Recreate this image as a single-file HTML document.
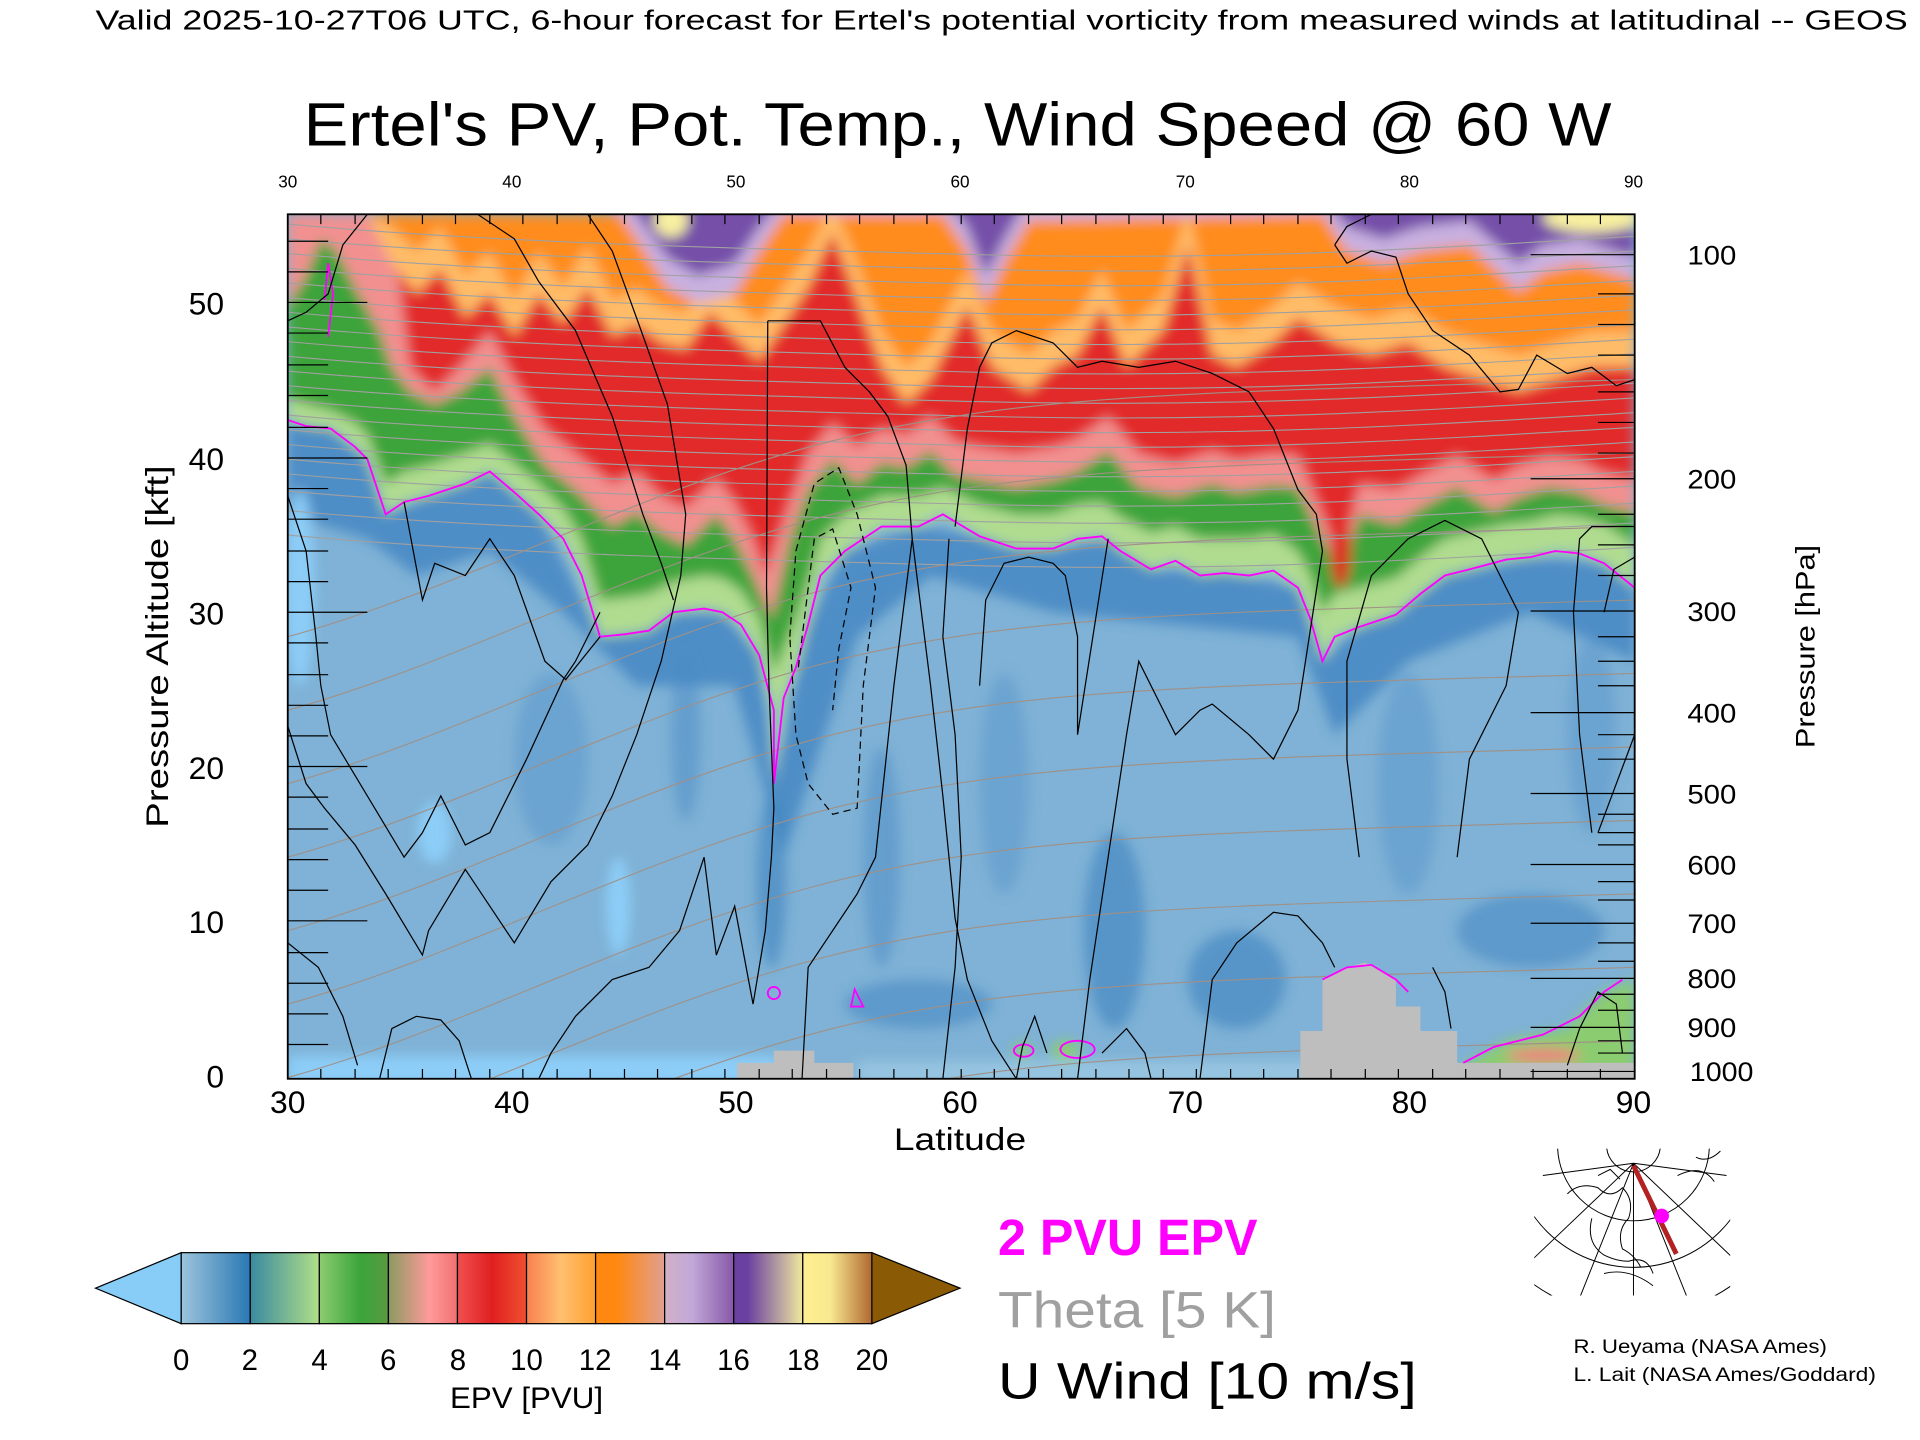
<!DOCTYPE html>
<html><head><meta charset="utf-8"><style>
html,body{margin:0;padding:0;background:#fff;}
svg{display:block;}
text{font-family:"Liberation Sans",sans-serif;}
</style></head><body>
<svg width="1920" height="1440" viewBox="0 0 1568 1176" xmlns="http://www.w3.org/2000/svg">
<defs>
<filter id="bl" x="-5%" y="-5%" width="110%" height="110%"><feGaussianBlur stdDeviation="5"/></filter>
<clipPath id="pc"><rect x="235" y="175" width="1100" height="706"/></clipPath>
<clipPath id="mc"><rect x="1253" y="938" width="160" height="120"/></clipPath>
<linearGradient id="g0"><stop offset="0" stop-color="#9cc4dc"/><stop offset="1" stop-color="#2a78b4"/></linearGradient>
<linearGradient id="g1"><stop offset="0" stop-color="#3a8aa0"/><stop offset="1" stop-color="#b0e088"/></linearGradient>
<linearGradient id="g2"><stop offset="0" stop-color="#8ccc70"/><stop offset=".6" stop-color="#3aa43a"/><stop offset="1" stop-color="#5a9a40"/></linearGradient>
<linearGradient id="g3"><stop offset="0" stop-color="#8a9a60"/><stop offset=".6" stop-color="#ff9a9a"/><stop offset="1" stop-color="#f07070"/></linearGradient>
<linearGradient id="g4"><stop offset="0" stop-color="#f05050"/><stop offset=".5" stop-color="#e02020"/><stop offset="1" stop-color="#f05030"/></linearGradient>
<linearGradient id="g5"><stop offset="0" stop-color="#f88050"/><stop offset=".5" stop-color="#ffc070"/><stop offset="1" stop-color="#ffa030"/></linearGradient>
<linearGradient id="g6"><stop offset="0" stop-color="#ff8810"/><stop offset=".3" stop-color="#ff8810"/><stop offset="1" stop-color="#e0a090"/></linearGradient>
<linearGradient id="g7"><stop offset="0" stop-color="#d4b0c8"/><stop offset=".4" stop-color="#c0a8d8"/><stop offset="1" stop-color="#8858a8"/></linearGradient>
<linearGradient id="g8"><stop offset="0" stop-color="#6a40a0"/><stop offset=".2" stop-color="#6a40a0"/><stop offset="1" stop-color="#f0e8a0"/></linearGradient>
<linearGradient id="g9"><stop offset="0" stop-color="#fff090"/><stop offset=".4" stop-color="#f8e890"/><stop offset="1" stop-color="#b06830"/></linearGradient>
<path id="th" d="M235,175 C400,190 600,195 800,200 S1150,196 1335,185" fill="none" stroke="#a0a0a0" stroke-width="0.9"/>
<path id="tl" d="M235,640 C380,600 520,520 680,480 S1000,440 1335,430" fill="none" stroke="#a09086" stroke-width="0.9"/>
</defs>

<text x="78" y="24" font-size="23" textLength="1480" lengthAdjust="spacingAndGlyphs">Valid 2025-10-27T06 UTC, 6-hour forecast for Ertel's potential vorticity from measured winds at latitudinal -- GEOS</text>
<text x="248" y="119" font-size="50" textLength="1068" lengthAdjust="spacingAndGlyphs">Ertel's PV, Pot. Temp., Wind Speed @ 60 W</text>

<g clip-path="url(#pc)">
<rect x="235" y="175" width="1100" height="706" fill="#7fb2d6"/>
<g filter="url(#bl)">
<polygon fill="#3c82c0" opacity=".75" points="235,343 270,350 300,375 315,420 350,405 400,385 440,420 490,520 550,500 590,500 620,535 632,640 660,510 690,450 750,430 800,438 860,448 905,440 940,465 1000,468 1060,480 1080,540 1110,512 1180,470 1250,455 1310,460 1335,480 1335,540 1250,500 1150,540 1090,600 1060,520 960,510 860,500 760,470 700,520 640,700 600,560 520,560 460,500 400,450 340,470 300,440 235,420"/>
<ellipse cx="630" cy="720" rx="12" ry="70" fill="#3c82c0" opacity=".6"/>
<ellipse cx="720" cy="700" rx="15" ry="90" fill="#4a8cc6" opacity=".5"/>
<ellipse cx="910" cy="760" rx="25" ry="80" fill="#3c82c0" opacity=".6"/>
<ellipse cx="1010" cy="800" rx="40" ry="40" fill="#3c82c0" opacity=".6"/>
<ellipse cx="1250" cy="760" rx="60" ry="30" fill="#3c82c0" opacity=".5"/>
<ellipse cx="560" cy="600" rx="12" ry="70" fill="#4a8cc6" opacity=".5"/>
<ellipse cx="450" cy="620" rx="30" ry="70" fill="#5a96cc" opacity=".5"/>
<ellipse cx="820" cy="640" rx="20" ry="90" fill="#5a96cc" opacity=".5"/>
<ellipse cx="1150" cy="640" rx="25" ry="90" fill="#5a96cc" opacity=".5"/>
<ellipse cx="1300" cy="600" rx="20" ry="80" fill="#5a96cc" opacity=".5"/>
<ellipse cx="750" cy="820" rx="60" ry="20" fill="#3c82c0" opacity=".5"/>
<ellipse cx="245" cy="480" rx="12" ry="80" fill="#8ccdf7"/>
<ellipse cx="355" cy="680" rx="14" ry="25" fill="#8ccdf7"/>
<ellipse cx="505" cy="740" rx="10" ry="40" fill="#8ccdf7"/>
<rect x="235" y="862" width="400" height="25" fill="#8ccdf7"/>
<rect x="700" y="866" width="400" height="20" fill="#96c4e0"/>
<polygon fill="#b0dc90" points="235,175 235,343 250,348 270,350 290,365 300,375 315,420 330,410 350,405 380,395 400,385 420,402 440,420 460,440 475,470 490,520 510,518 530,515 550,500 575,497 590,500 605,510 620,535 632,580 632,640 640,570 650,545 660,510 670,470 690,450 720,430 750,430 770,420 800,438 830,448 860,448 880,440 900,438 915,450 940,465 960,458 980,470 1000,468 1020,470 1040,466 1060,480 1070,505 1080,540 1090,520 1110,512 1140,502 1160,485 1180,470 1200,465 1230,457 1250,455 1270,450 1290,452 1310,460 1335,480 1335,175"/>
<polygon fill="#3ea43a" points="235,175 235,325 250,330 270,335 290,345 300,355 315,395 330,385 350,380 380,370 400,362 420,378 440,395 460,415 475,440 490,490 510,488 530,485 550,475 575,470 590,472 605,482 620,505 632,550 640,530 650,505 660,475 670,440 690,420 720,405 750,405 770,398 800,412 830,420 860,420 880,412 900,410 915,422 940,435 960,430 980,440 1000,440 1020,440 1040,436 1060,450 1070,470 1080,500 1090,485 1110,480 1140,472 1160,455 1180,440 1200,435 1230,428 1250,426 1270,420 1290,422 1310,428 1335,445 1335,175"/>
<polygon fill="#f29090" points="235,175 235,250 250,225 262,195 275,205 290,235 310,270 320,300 335,320 355,330 375,320 400,300 420,340 445,380 470,400 500,430 520,418 540,435 560,445 585,420 600,440 615,470 630,505 645,440 660,400 680,375 700,395 720,378 740,382 760,368 780,388 800,392 830,398 860,392 880,385 905,368 930,398 960,405 990,395 1010,402 1040,396 1060,398 1080,440 1095,470 1110,420 1140,428 1160,415 1190,398 1220,418 1240,406 1265,398 1290,402 1310,412 1335,418 1335,175"/>
<polygon fill="#e22a2a" points="235,175 300,175 320,185 335,300 355,320 375,300 400,270 420,310 445,350 470,370 500,395 520,385 540,405 560,415 585,390 600,410 615,440 625,470 645,410 660,370 680,345 700,365 720,350 740,355 760,340 780,360 800,365 830,370 860,365 880,358 905,340 930,370 960,378 990,368 1010,375 1040,370 1060,372 1080,420 1095,460 1110,395 1140,400 1160,388 1190,372 1220,392 1240,380 1265,372 1290,376 1310,386 1335,392 1335,175"/>
<polygon fill="#ffbc68" points="235,175 300,175 320,215 340,240 360,220 380,260 400,240 420,275 440,240 460,265 480,235 500,275 520,265 540,280 560,285 580,255 600,275 620,295 640,265 660,235 680,190 700,245 720,300 740,330 760,310 790,250 810,300 840,320 860,300 880,290 900,250 920,300 950,270 970,200 990,290 1010,300 1040,280 1060,260 1090,280 1120,290 1150,280 1180,300 1210,310 1240,320 1270,310 1300,300 1335,300 1335,175"/>
<polygon fill="#ff8c1a" points="235,175 300,175 320,185 340,205 360,185 380,225 400,205 420,245 440,205 460,235 480,200 500,245 520,235 540,250 560,255 580,225 600,245 620,265 640,235 660,205 680,165 700,215 720,270 740,300 760,280 790,220 810,270 840,290 860,270 880,260 900,220 920,270 950,240 970,170 990,260 1010,270 1040,250 1060,230 1090,250 1120,260 1150,250 1180,270 1210,280 1240,290 1270,280 1300,270 1335,270 1335,175"/>
<polygon fill="#c8b0e0" points="235,165 500,165 520,195 545,235 570,248 600,240 620,205 640,175 770,175 790,205 805,248 820,215 840,180 1080,175 1100,205 1130,215 1160,205 1200,200 1240,238 1260,222 1290,215 1335,228 1335,165"/>
<polygon fill="#7450a8" points="235,150 500,150 520,175 545,210 570,225 600,215 620,185 640,160 770,160 790,185 805,225 820,195 840,160 1080,160 1100,185 1130,195 1160,185 1200,180 1240,215 1260,200 1290,195 1335,210 1335,150"/>
<ellipse cx="548" cy="180" rx="14" ry="14" fill="#f8f0a0"/>
<ellipse cx="1300" cy="178" rx="40" ry="12" fill="#f8f0a0"/>
<ellipse cx="1095" cy="450" rx="8" ry="30" fill="#e02a20"/>
<polygon fill="#8ccc70" points="1195,870 1230,850 1280,840 1310,810 1335,800 1335,881 1195,881"/>
<ellipse cx="1260" cy="862" rx="30" ry="6" fill="#f08080"/>
<ellipse cx="870" cy="858" rx="12" ry="8" fill="#8ccc70"/>
<ellipse cx="835" cy="858" rx="8" ry="6" fill="#8ccc70"/>
</g>
<g>
<use href="#th" y="8"/><use href="#th" y="20"/><use href="#th" y="32"/><use href="#th" y="44"/><use href="#th" y="56"/><use href="#th" y="68"/><use href="#th" y="80"/><use href="#th" y="92"/><use href="#th" y="104"/><use href="#th" y="116"/><use href="#th" y="128"/><use href="#th" y="140"/><use href="#th" y="152"/><use href="#th" y="164"/><use href="#th" y="176"/><use href="#th" y="188"/><use href="#th" y="200"/><use href="#th" y="212"/><use href="#th" y="226"/><use href="#th" y="242"/><use href="#th" y="262"/>
<use href="#tl" y="-120"/><use href="#tl" y="-60"/><use href="#tl" y="0"/><use href="#tl" y="60"/><use href="#tl" y="120"/><use href="#tl" y="180"/><use href="#tl" y="240"/><use href="#tl" y="300"/><use href="#tl" y="360"/><use href="#tl" y="420"/>
</g>
<polygon fill="#bebebe" points="1062,881 1062,842 1080,842 1080,800 1100,790 1115,786 1140,800 1140,822 1160,822 1160,842 1190,842 1190,881"/>
<polygon fill="#bebebe" points="602,881 602,868 632,868 632,858 665,858 665,868 697,868 697,881"/>
<rect x="1190" y="868" width="145" height="13" fill="#bebebe"/>
<polyline fill="none" stroke="#ff00ff" stroke-width="1.5" points="235,343 250,348 270,350 290,365 300,375 315,420 330,410 350,405 380,395 400,385 420,402 440,420 460,440 475,470 490,520 510,518 530,515 550,500 575,497 590,500 605,510 620,535 632,580 632,640 640,570 650,545 660,510 670,470 690,450 720,430 750,430 770,420 800,438 830,448 860,448 880,440 900,438 915,450 940,465 960,458 980,470 1000,468 1020,470 1040,466 1060,480 1070,505 1080,540 1090,520 1110,512 1140,502 1160,485 1180,470 1200,465 1230,457 1250,455 1270,450 1290,452 1310,460 1335,480"/>
<polyline fill="none" stroke="#ff00ff" stroke-width="1.5" points="265,245 268,215 272,240 268,275"/>
<polyline fill="none" stroke="#ff00ff" stroke-width="1.5" points="1080,800 1100,790 1120,788 1140,800 1150,810"/>
<polyline fill="none" stroke="#ff00ff" stroke-width="1.5" points="1195,868 1220,855 1260,845 1290,830 1310,810 1325,800"/>
<circle cx="632" cy="811" r="5" fill="none" stroke="#ff00ff" stroke-width="1.5"/>
<polygon fill="none" stroke="#ff00ff" stroke-width="1.5" points="698,808 705,822 695,822"/>
<ellipse cx="880" cy="857" rx="14" ry="7" fill="none" stroke="#ff00ff" stroke-width="1.5"/>
<ellipse cx="836" cy="858" rx="8" ry="5" fill="none" stroke="#ff00ff" stroke-width="1.5"/>
<g fill="none" stroke="#000" stroke-width="1">
<path d="M235,593 L250,640 L265,660 L290,690 L315,730 L345,780 L350,760 L380,710 L420,770 L450,720 L480,690 L500,650 L520,600 L540,540 L556,470 L560,420 L545,330 L520,260 L500,205 L480,175"/>
<path d="M235,405 L250,450 L258,520 L262,560 L270,600 L300,650 L330,700 L345,680 L360,650 L380,690 L400,680 L430,620 L460,555 L470,540 L490,500"/>
<path d="M300,175 L280,200 L268,240 L250,255 L235,262"/>
<path d="M390,175 L420,195 L440,230 L470,270 L500,340 L525,420 L540,460 L550,490"/>
<path d="M330,410 L345,490 L355,460 L380,470 L400,440 L420,470 L445,540 L462,555 L490,520"/>
<path d="M235,770 L260,790 L280,830 L292,870"/>
<path d="M310,881 L320,840 L340,830 L360,833 L375,850 L385,881"/>
<path d="M440,881 L450,860 L470,830 L500,800 L530,790 L555,760 L575,700 L585,780 L600,740 L615,820 L625,760 L630,700 L632,660 L628,560 L626,480 L627,262"/>
<path d="M627,262 L650,262 L670,262 L690,300 L710,320 L725,340 L740,380 L745,440 L760,560 L770,650 L780,750 L790,800 L810,850 L830,881"/>
<path d="M655,881 L660,790 L680,760 L700,730 L715,700 L730,560 L745,440"/>
<path d="M780,430 L790,350 L800,300 L810,280 L830,270 L860,280 L880,300 L900,295 L930,300 L960,295 L990,305 L1020,320 L1040,350 L1060,400 L1075,420 L1080,450"/>
<path d="M770,881 L780,790 L785,700 L780,600 L770,520 L775,440"/>
<path d="M800,560 L805,490 L820,460 L840,455 L860,460 L870,470 L880,520 L880,600 L905,440"/>
<path d="M880,881 L890,800 L905,700 L920,600 L930,540 L960,600 L980,580 L990,575 L1020,600 L1040,620 L1060,580 L1080,450"/>
<path d="M980,881 L990,800 L1010,770 L1040,745 L1060,748 L1080,770 L1090,790"/>
<path d="M1110,700 L1100,620 L1100,540 L1120,470 L1150,440 L1180,425 L1210,440 L1230,480 L1240,500 L1230,560 L1200,620 L1190,700"/>
<path d="M1090,200 L1100,185 L1120,175 M1090,200 L1100,215 L1120,205 L1140,210 L1150,240 L1170,270 L1200,290 L1225,320 L1240,318 L1255,290 L1280,305 L1300,300 L1320,315 L1335,310"/>
<path d="M1300,680 L1290,600 L1285,500 L1290,440 L1300,430 L1335,430"/>
<path d="M1305,680 L1320,640 L1335,600"/>
<path d="M1280,870 L1290,840 L1305,810 L1320,820 L1325,860"/>
<path d="M830,881 L835,855 L845,830 L855,860"/>
<path d="M900,860 L920,840 L935,860 L940,881"/>
<path d="M1170,790 L1180,810 L1185,840"/>
<path d="M1335,455 L1318,465 L1310,500"/>
</g>
<g fill="none" stroke="#000" stroke-width="1" stroke-dasharray="6,4">
<path d="M645,520 L650,450 L665,395 L685,382 L700,420 L715,480 L705,560 L700,660 L680,665 L660,640 L650,600 Z"/>
<path d="M652,545 L665,440 L680,432 L695,480 L685,530 L680,580"/>
</g>
<g stroke="#000" stroke-width="1">
<path d="M235,247H300M235,374H300M235,500H300M235,626H300M235,752H300"/>
<path d="M235,197H268M235,222H268M235,272H268M235,298H268M235,323H268M235,349H268M235,399H268M235,424H268M235,450H268M235,475H268M235,525H268M235,551H268M235,576H268M235,601H268M235,651H268M235,677H268M235,702H268M235,727H268M235,778H268M235,803H268M235,828H268M235,853H268"/>
<path d="M1250,208H1335M1250,391H1335M1250,499H1335M1250,582H1335M1250,648H1335M1250,706H1335M1250,754H1335M1250,799H1335M1250,839H1335M1250,875H1335"/>
<path d="M1305,240H1335M1305,265H1335M1305,290H1335M1305,320H1335M1305,345H1335M1305,370H1335M1305,420H1335M1305,445H1335M1305,470H1335M1305,520H1335M1305,540H1335M1305,560H1335M1305,600H1335M1305,620H1335M1305,665H1335M1305,680H1335M1305,690H1335M1305,720H1335M1305,735H1335M1305,770H1335M1305,785H1335M1305,812H1335M1305,825H1335M1305,850H1335M1305,860H1335"/>
</g>
</g>
<rect x="235" y="175" width="1100" height="706" fill="none" stroke="#000" stroke-width="1.5"/>
<g stroke="#000" stroke-width="1">
<path d="M262,175v8M290,175v8M317,175v8M345,175v8M372,175v8M400,175v8M427,175v8M455,175v8M482,175v8M510,175v8M537,175v8M565,175v8M592,175v8M620,175v8M647,175v8M675,175v8M702,175v8M730,175v8M757,175v8M785,175v8M812,175v8M840,175v8M867,175v8M895,175v8M922,175v8M950,175v8M977,175v8M1005,175v8M1032,175v8M1060,175v8M1087,175v8M1115,175v8M1142,175v8M1170,175v8M1197,175v8M1225,175v8M1252,175v8M1280,175v8M1307,175v8"/>
<path d="M262,881v-8M290,881v-8M317,881v-8M345,881v-8M372,881v-8M400,881v-8M427,881v-8M455,881v-8M482,881v-8M510,881v-8M537,881v-8M565,881v-8M592,881v-8M620,881v-8M647,881v-8M675,881v-8M702,881v-8M730,881v-8M757,881v-8M785,881v-8M812,881v-8M840,881v-8M867,881v-8M895,881v-8M922,881v-8M950,881v-8M977,881v-8M1005,881v-8M1032,881v-8M1060,881v-8M1087,881v-8M1115,881v-8M1142,881v-8M1170,881v-8M1197,881v-8M1225,881v-8M1252,881v-8M1280,881v-8M1307,881v-8"/>
</g>
<g font-size="14" text-anchor="middle">
<text x="235" y="153">30</text><text x="418" y="153">40</text><text x="601" y="153">50</text><text x="784" y="153">60</text><text x="968" y="153">70</text><text x="1151" y="153">80</text><text x="1334" y="153">90</text>
</g>
<g font-size="26" text-anchor="middle">
<text x="235" y="909">30</text><text x="418" y="909">40</text><text x="601" y="909">50</text><text x="784" y="909">60</text><text x="968" y="909">70</text><text x="1151" y="909">80</text><text x="1334" y="909">90</text>
<text x="784" y="939" textLength="108" lengthAdjust="spacingAndGlyphs">Latitude</text>
</g>
<g font-size="26" text-anchor="end">
<text x="183" y="888">0</text><text x="183" y="762">10</text><text x="183" y="636">20</text><text x="183" y="510">30</text><text x="183" y="384">40</text><text x="183" y="257">50</text>
</g>
<text transform="translate(137,528) rotate(-90)" font-size="26" text-anchor="middle" textLength="296" lengthAdjust="spacingAndGlyphs">Pressure Altitude [kft]</text>
<g font-size="22">
<text x="1378" y="216" textLength="40" lengthAdjust="spacingAndGlyphs">100</text>
<text x="1378" y="399" textLength="40" lengthAdjust="spacingAndGlyphs">200</text>
<text x="1378" y="507" textLength="40" lengthAdjust="spacingAndGlyphs">300</text>
<text x="1378" y="590" textLength="40" lengthAdjust="spacingAndGlyphs">400</text>
<text x="1378" y="656" textLength="40" lengthAdjust="spacingAndGlyphs">500</text>
<text x="1378" y="714" textLength="40" lengthAdjust="spacingAndGlyphs">600</text>
<text x="1378" y="762" textLength="40" lengthAdjust="spacingAndGlyphs">700</text>
<text x="1378" y="807" textLength="40" lengthAdjust="spacingAndGlyphs">800</text>
<text x="1378" y="847" textLength="40" lengthAdjust="spacingAndGlyphs">900</text>
<text x="1380" y="883" textLength="52" lengthAdjust="spacingAndGlyphs">1000</text>
</g>
<text transform="translate(1482,528) rotate(-90)" font-size="22" text-anchor="middle" textLength="166" lengthAdjust="spacingAndGlyphs">Pressure [hPa]</text>

<polygon points="78,1052 148,1023 148,1081" fill="#87cdf8" stroke="#000" stroke-width="1"/>
<polygon points="712,1023 784,1052 712,1081" fill="#8a5a04" stroke="#000" stroke-width="1"/>
<g stroke="#000" stroke-width="1">
<rect x="148" y="1023" width="56.4" height="58" fill="url(#g0)"/>
<rect x="204.4" y="1023" width="56.4" height="58" fill="url(#g1)"/>
<rect x="260.8" y="1023" width="56.4" height="58" fill="url(#g2)"/>
<rect x="317.2" y="1023" width="56.4" height="58" fill="url(#g3)"/>
<rect x="373.6" y="1023" width="56.4" height="58" fill="url(#g4)"/>
<rect x="430" y="1023" width="56.4" height="58" fill="url(#g5)"/>
<rect x="486.4" y="1023" width="56.4" height="58" fill="url(#g6)"/>
<rect x="542.8" y="1023" width="56.4" height="58" fill="url(#g7)"/>
<rect x="599.2" y="1023" width="56.4" height="58" fill="url(#g8)"/>
<rect x="655.6" y="1023" width="56.4" height="58" fill="url(#g9)"/>
</g>
<g font-size="24" text-anchor="middle">
<text x="148" y="1119">0</text><text x="204" y="1119">2</text><text x="261" y="1119">4</text><text x="317" y="1119">6</text><text x="374" y="1119">8</text><text x="430" y="1119">10</text><text x="486" y="1119">12</text><text x="543" y="1119">14</text><text x="599" y="1119">16</text><text x="656" y="1119">18</text><text x="712" y="1119">20</text>
<text x="430" y="1150" textLength="125" lengthAdjust="spacingAndGlyphs">EPV [PVU]</text>
</g>

<text x="815" y="1025" font-size="42" font-weight="bold" fill="#ff00ff" textLength="212" lengthAdjust="spacingAndGlyphs">2 PVU EPV</text>
<text x="815" y="1084" font-size="42" fill="#a0a0a0" textLength="227" lengthAdjust="spacingAndGlyphs">Theta [5 K]</text>
<text x="815" y="1142" font-size="42" fill="#000" textLength="342" lengthAdjust="spacingAndGlyphs">U Wind [10 m/s]</text>

<g clip-path="url(#mc)" fill="none" stroke="#000" stroke-width="0.8">
<circle cx="1334" cy="935" r="22"/>
<circle cx="1334" cy="935" r="62"/>
<circle cx="1334" cy="935" r="100"/>
<circle cx="1334" cy="935" r="140"/>
<path d="M1334,950 L1334,1060 M1334,950 L1290,1060 M1334,950 L1250,1030 M1334,950 L1378,1060 M1334,950 L1418,1030 M1334,950 L1260,960 M1334,950 L1410,960"/>
<path d="M1280,975 q10,-10 25,-5 q10,10 20,0 q10,10 5,25 q-10,10 -5,25 q10,5 15,15 M1300,995 q-5,20 10,30 q10,5 20,5 q15,-5 20,10 M1310,1040 q20,-5 40,10 M1370,960 q20,-10 30,5 M1385,945 q10,5 20,-5 M1305,960 l10,-5 l8,8"/>
</g>
<line x1="1334" y1="952" x2="1369" y2="1024" stroke="#b22222" stroke-width="4"/>
<circle cx="1357" cy="993" r="6" fill="#ff00ff"/>
<text x="1285" y="1105" font-size="16" textLength="207" lengthAdjust="spacingAndGlyphs">R. Ueyama (NASA Ames)</text>
<text x="1285" y="1128" font-size="16" textLength="247" lengthAdjust="spacingAndGlyphs">L. Lait (NASA Ames/Goddard)</text>
</svg>
</body></html>
